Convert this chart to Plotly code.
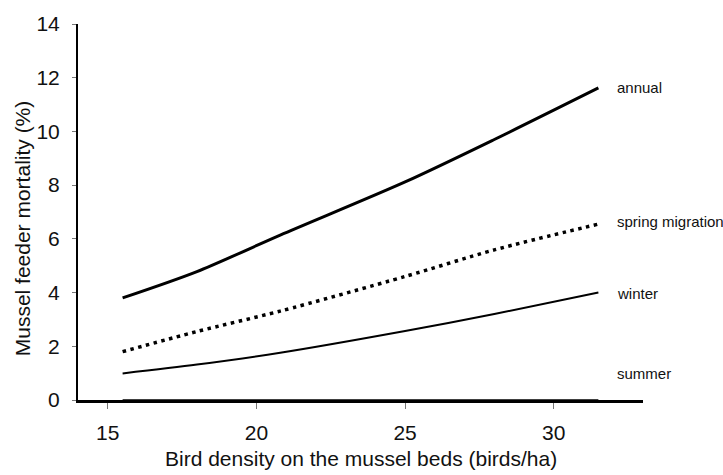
import plotly.graph_objects as go

# Bird density on the mussel beds (birds/ha)
density = [15.5, 18, 20.8, 25, 28, 31.5]

# Mussel feeder mortality (%) per season
annual = [3.8, 4.78, 6.14, 8.12, 9.7, 11.62]
spring_migration = [1.8, 2.55, 3.31, 4.6, 5.59, 6.55]
winter = [0.99, 1.32, 1.76, 2.57, 3.2, 4.0]
summer = [0.0, 0.0, 0.0, 0.0, 0.0, 0.0]

series_names = ["annual", "spring migration", "winter", "summer"]
label_y = [11.65, 6.65, 3.97, 0.99]

x_ticks = [15, 20, 25, 30]
y_ticks = [0, 2, 4, 6, 8, 10, 12, 14]

FONT = "Liberation Sans, Arial, sans-serif"

fig = go.Figure()
fig.add_trace(go.Scatter(x=density, y=annual, mode="lines", name="annual",
                         line=dict(color="black", width=3, shape="spline", smoothing=0.8)))
fig.add_trace(go.Scatter(x=density, y=spring_migration, mode="lines", name="spring migration",
                         line=dict(color="black", width=3.5, shape="spline", smoothing=0.8,
                                   dash="3.5px,4.5px")))
fig.add_trace(go.Scatter(x=density, y=winter, mode="lines", name="winter",
                         line=dict(color="black", width=2, shape="spline", smoothing=0.8)))
fig.add_trace(go.Scatter(x=density, y=summer, mode="lines", name="summer",
                         line=dict(color="black", width=1.5)))

annotations = []
for name, yv in zip(series_names, label_y):
    annotations.append(dict(x=32.06, y=yv, xref="x", yref="y", text=name,
                            showarrow=False, xanchor="left", yanchor="middle",
                            font=dict(family=FONT, size=15, color="#111")))

# axis titles
annotations.append(dict(x=0.5, y=-59 / 381, xref="paper", yref="paper",
                        text="Bird density on the mussel beds (birds/ha)",
                        showarrow=False, xanchor="center", yanchor="middle",
                        font=dict(family=FONT, size=21, color="#111")))
annotations.append(dict(x=-56 / 565, y=(400 - 226) / 381, xref="paper", yref="paper",
                        text="Mussel feeder mortality (%)", textangle=-90,
                        showarrow=False, xanchor="center", yanchor="middle",
                        font=dict(family=FONT, size=21, color="#111")))

fig.update_layout(
    width=723, height=475,
    margin=dict(l=78, r=80, t=19, b=75, pad=0),
    paper_bgcolor="white", plot_bgcolor="white",
    showlegend=False,
    font=dict(family=FONT, size=21, color="#111"),
    annotations=annotations,
    xaxis=dict(range=[14, 33], tickvals=x_ticks, ticktext=[str(v) for v in x_ticks],
               showgrid=False, zeroline=False, showline=True, linecolor="black", linewidth=2.5,
               ticks="outside", ticklen=6, tickwidth=1, tickcolor="#777",
               ticklabelstandoff=6),
    yaxis=dict(range=[0, 14], tickvals=y_ticks, ticktext=[str(v) for v in y_ticks],
               showgrid=False, zeroline=False, showline=True, linecolor="black", linewidth=2,
               ticks="outside", ticklen=4, tickwidth=1, tickcolor="#777",
               ticklabelstandoff=8),
)

fig.write_html("out.html")
